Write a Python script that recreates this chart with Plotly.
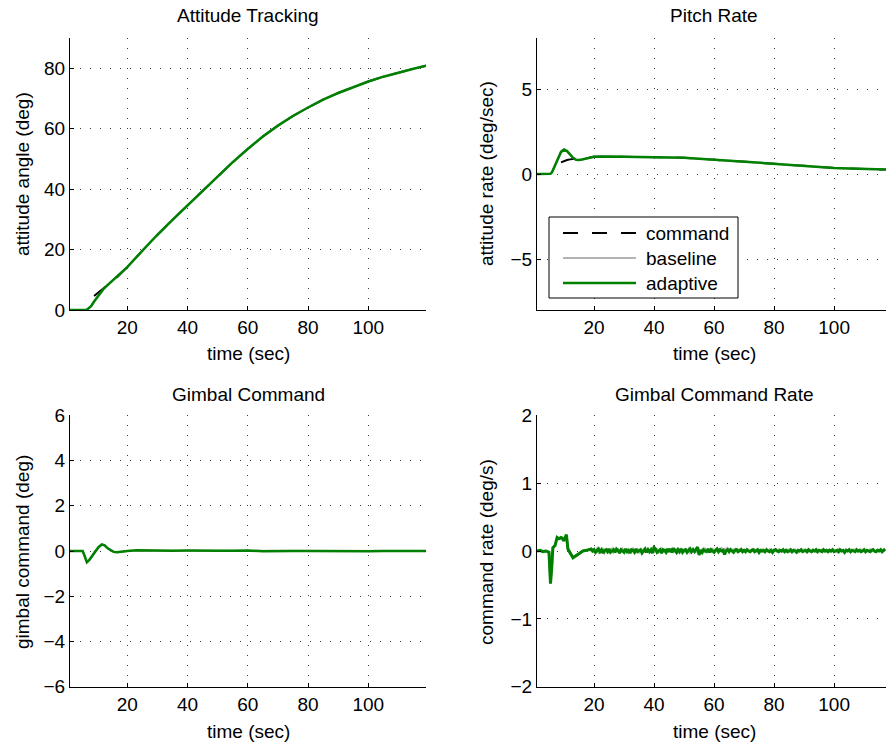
import plotly.graph_objects as go

# ---------------- data ----------------
# Attitude tracking (deg)
t_att = [1, 5, 6, 6.5, 7, 8, 9, 10, 11, 12, 13, 14, 15, 17, 20, 25, 30, 35, 40, 45, 50,
         55, 60, 65, 70, 75, 80, 85, 90, 95, 100, 105, 110, 115, 119.15]
att_adaptive = [0, 0, 0, 0.1, 0.4, 1.3, 2.8, 4.2, 5.6, 6.8, 7.8, 8.7, 9.5, 11.2, 14.2, 19.6,
                24.9, 29.8, 34.6, 39.4, 44.2, 48.9, 53.3, 57.4, 61.0, 64.2, 67.0, 69.6,
                71.8, 73.8, 75.6, 77.2, 78.6, 79.8, 80.8]
att_baseline = [0, 0, 0, 0.1, 0.4, 1.3, 2.8, 4.2, 5.6, 6.8, 7.8, 8.7, 9.5, 11.2, 14.2, 19.6,
                24.9, 29.8, 34.6, 39.4, 44.2, 48.9, 53.3, 57.4, 61.0, 64.2, 67.0, 69.6,
                71.8, 73.8, 75.6, 77.2, 78.6, 79.8, 80.8]
t_att_cmd = [9, 10, 11, 12, 13, 14, 15, 17, 20, 25, 30, 35, 40, 45, 50, 55, 60, 65, 70,
             75, 80, 85, 90, 95, 100, 105, 110, 115, 119.15]
att_command = [4.6, 5.4, 6.2, 7.1, 7.9, 8.8, 9.6, 11.2, 14.2, 19.6, 24.9, 29.8, 34.6,
               39.4, 44.2, 48.9, 53.3, 57.4, 61.0, 64.2, 67.0, 69.6, 71.8, 73.8, 75.6,
               77.2, 78.6, 79.8, 80.8]

# Pitch rate (deg/sec)
t_rate = [1, 5, 5.5, 6, 7, 8, 9, 10, 11, 12, 13, 14, 15, 16, 17, 18, 20, 25, 30, 35, 40,
          45, 50, 55, 60, 65, 70, 75, 80, 85, 90, 95, 100, 105, 110, 115, 117.3]
rate_adaptive = [0, 0, 0.02, 0.1, 0.5, 0.95, 1.3, 1.44, 1.35, 1.15, 0.95, 0.84, 0.82, 0.85,
                 0.9, 0.95, 1.02, 1.03, 1.02, 1.03, 1.02, 1.0, 0.96, 0.9, 0.84, 0.77, 0.7,
                 0.63, 0.56, 0.5, 0.45, 0.4, 0.36, 0.32, 0.29, 0.27, 0.26]
rate_baseline = [0, 0, 0.02, 0.1, 0.5, 0.95, 1.3, 1.44, 1.35, 1.15, 0.95, 0.84, 0.82, 0.85,
                 0.9, 0.95, 1.02, 1.03, 1.02, 1.03, 1.02, 1.0, 0.96, 0.9, 0.84, 0.77, 0.7,
                 0.63, 0.56, 0.5, 0.45, 0.4, 0.36, 0.32, 0.29, 0.27, 0.26]
t_rate_cmd = [9, 10, 11, 12, 13, 15, 18, 20, 25, 30, 35, 40, 45, 50, 55, 60, 65, 70, 75,
              80, 85, 90, 95, 100, 105, 110, 115, 117.3]
rate_command = [0.68, 0.76, 0.82, 0.86, 0.89, 0.93, 0.98, 1.01, 1.03, 1.02, 1.03, 1.02,
                1.0, 0.96, 0.9, 0.84, 0.77, 0.7, 0.63, 0.56, 0.5, 0.45, 0.4, 0.36, 0.32,
                0.29, 0.27, 0.26]

# Gimbal command (deg)
t_gim = [1, 5.2, 5.8, 6.6, 7.5, 8.5, 9.3, 10.5, 11.6, 12.5, 13.5, 14.5, 15.5, 16.6, 18,
         20, 23, 26, 30, 35, 40, 45, 50, 55, 60, 65, 70, 75, 80, 85, 90, 95, 100, 105,
         110, 115, 119.15]
gim_adaptive = [0, 0, -0.2, -0.5, -0.38, -0.2, 0.0, 0.18, 0.29, 0.25, 0.12, 0.02, -0.04,
                -0.06, -0.03, 0.0, 0.03, 0.02, 0.02, 0.01, 0.02, 0.0, 0.01, 0.01, 0.02,
                -0.01, 0.01, 0.0, 0.0, -0.01, 0.0, 0.0, -0.01, 0.0, -0.01, 0.0, 0.0]
gim_baseline = [0, 0, -0.2, -0.49, -0.37, -0.2, 0.0, 0.17, 0.28, 0.24, 0.12, 0.02, -0.04,
                -0.05, -0.03, 0.0, 0.02, 0.02, 0.01, 0.01, 0.01, 0.0, 0.01, 0.0, 0.01,
                0.0, 0.01, 0.0, 0.0, 0.0, 0.0, 0.0, -0.01, 0.0, 0.0, 0.0, 0.0]

# Gimbal command rate (deg/s): transient part
t_cr_early = [1, 2, 3, 4, 5.0, 5.2, 5.5, 5.9, 6.3, 7.0, 7.7, 8.3, 9.0, 9.4, 9.9, 10.4,
              10.8, 11.3, 12.0, 13.0, 14.0, 15.0, 16.3, 17.5, 18.5]
cr_adaptive_early = [0.0, 0.01, -0.01, 0.0, -0.02, -0.3, -0.48, -0.25, 0.05, 0.08, 0.2,
                     0.18, 0.2, 0.19, 0.15, 0.2, 0.24, 0.03, -0.03, -0.1, -0.07, -0.04,
                     0.0, 0.01, 0.03]
cr_baseline_early = [0.0, 0.0, 0.0, 0.0, -0.02, -0.3, -0.47, -0.25, 0.05, 0.08, 0.19,
                     0.18, 0.19, 0.19, 0.15, 0.2, 0.23, 0.03, -0.03, -0.09, -0.07, -0.04,
                     0.0, 0.01, 0.02]
# Gimbal command rate (deg/s): steady jitter part
t_cr_late = [19, 19.5, 20, 20.5, 21, 21.5, 22, 22.5, 23, 23.5, 24, 24.5, 25, 25.5, 26,
             26.5, 27, 27.5, 28, 28.5, 29, 29.5, 30, 30.5, 31, 31.5, 32, 32.5, 33, 33.5,
             34, 34.5, 35, 35.5, 36, 36.5, 37, 37.5, 38, 38.5, 39, 39.5, 40, 40.5, 41,
             41.5, 42, 42.5, 43, 43.5, 44, 44.5, 45, 45.5, 46, 46.5, 47, 47.5, 48, 48.5,
             49, 49.5, 50, 50.5, 51, 51.5, 52, 52.5, 53, 53.5, 54, 54.5, 55, 55.5, 56,
             56.5, 57, 57.5, 58, 58.5, 59, 59.5, 60, 60.5, 61, 61.5, 62, 62.5, 63, 63.5,
             64, 64.5, 65, 65.5, 66, 66.5, 67, 67.5, 68, 68.5, 69, 69.5, 70, 70.5, 71,
             71.5, 72, 72.5, 73, 73.5, 74, 74.5, 75, 75.5, 76, 76.5, 77, 77.5, 78, 78.5,
             79, 79.5, 80, 80.5, 81, 81.5, 82, 82.5, 83, 83.5, 84, 84.5, 85, 85.5, 86,
             86.5, 87, 87.5, 88, 88.5, 89, 89.5, 90, 90.5, 91, 91.5, 92, 92.5, 93, 93.5,
             94, 94.5, 95, 95.5, 96, 96.5, 97, 97.5, 98, 98.5, 99, 99.5, 100, 100.5, 101,
             101.5, 102, 102.5, 103, 103.5, 104, 104.5, 105, 105.5, 106, 106.5, 107,
             107.5, 108, 108.5, 109, 109.5, 110, 110.5, 111, 111.5, 112, 112.5, 113,
             113.5, 114, 114.5, 115, 115.5, 116, 116.5, 117]
cr_adaptive_late = [
    0.03, 0.0, 0.02, -0.02, 0.01, 0.03, -0.01, 0.02, -0.03, 0.01,
    0.02, -0.01, 0.03, -0.02, 0.0, 0.02, -0.02, 0.03, 0.01, -0.03,
    0.02, 0.0, -0.02, 0.03, -0.01, 0.01, -0.03, 0.02, 0.01, -0.02,
    0.03, -0.01, 0.0, 0.02, -0.03, 0.01, 0.03, -0.02, 0.02, -0.01,
    0.02, -0.03, 0.05, 0.03, -0.02, 0.0, 0.02, -0.03, 0.02, 0.01,
    -0.02, 0.03,
    -0.01, 0.03, -0.02, 0.04, 0.0, -0.02, 0.02, -0.01, 0.03, -0.02,
    0.01, 0.02, -0.02, 0.0, 0.03, -0.01, 0.02, -0.01, 0.02, 0.06,
    -0.06, 0.01, -0.02, 0.02, 0.0, -0.01, 0.03, -0.02, 0.02, 0.0,
    -0.02, 0.01, 0.03, -0.01, 0.02, 0.0, 0.01, -0.05, 0.0, 0.02,
    -0.01, 0.02, 0.0, -0.02, 0.01, 0.02, -0.01, 0.0, 0.02, -0.01,
    0.01, -0.01, 0.02, 0.0, -0.01, 0.01, 0.02, -0.01, 0.0, 0.02,
    -0.02, 0.01, 0.0, 0.01, -0.01, 0.02, 0.0, -0.01, 0.01, -0.02,
    0.01, 0.02, 0.0, -0.01, 0.01, 0.0, 0.02, -0.01, 0.01, -0.01,
    0.0, 0.02, -0.01, 0.01, 0.0, -0.02, 0.01, 0.0, 0.02, -0.01,
    0.0, 0.01, -0.01, 0.02, 0.0, -0.01, 0.01, 0.0, 0.02, -0.01,
    0.01, 0.0, -0.01, 0.02, 0.0, 0.01, -0.01, 0.01, 0.0, 0.02,
    -0.01, 0.0, 0.01, -0.01, 0.02, 0.0, 0.01, -0.02, 0.01, 0.0,
    0.02, -0.01, 0.01, 0.0, -0.01, 0.02, 0.0, 0.01, -0.01, 0.0,
    0.02, -0.01, 0.01, 0.0, -0.01, 0.01, 0.02, 0.0, -0.01, 0.01,
    0.0, 0.02, -0.01, 0.01, 0.03]
cr_baseline_late = [
    0.01, 0.02, -0.01, 0.0, 0.03, -0.02, 0.01, 0.0, 0.02, -0.03,
    0.0, 0.02, -0.01, 0.01, 0.03, -0.02, 0.0, 0.01, 0.02, -0.02,
    0.0, 0.03, -0.01, 0.0, 0.02, -0.02, 0.01, 0.0, 0.03, -0.01,
    0.0, 0.02, -0.03, 0.01, 0.0, 0.02, -0.01, 0.01, 0.02, -0.02,
    0.0, 0.03, -0.01, 0.0, 0.02, -0.02, 0.01, 0.03, -0.01, 0.0,
    0.02, -0.01,
    0.02, 0.0, 0.03, -0.01, 0.01, 0.02, -0.02, 0.0, 0.03, 0.01,
    -0.01, 0.02, 0.0, 0.03, -0.02, 0.01, 0.02, 0.0, -0.01, 0.03,
    0.01, 0.0, 0.02, -0.01, 0.03, 0.0, 0.02, 0.01, -0.01, 0.03,
    0.02, 0.0, 0.03, 0.01, 0.02, 0.04, 0.02, 0.03, 0.01, 0.04,
    0.02, 0.03, 0.01, 0.02, 0.03, 0.0, 0.02, 0.01, 0.03, 0.0,
    0.01, 0.0, 0.02, 0.01, -0.01, 0.0, 0.01, 0.02, 0.0, -0.01,
    0.01, 0.0, 0.02, -0.01, 0.0, 0.01, 0.0, 0.02, 0.0, -0.01,
    0.01, 0.0, 0.01, 0.02, 0.0, -0.01, 0.0, 0.01, 0.0, 0.02,
    0.01, -0.01, 0.0, 0.01, 0.02, 0.0, -0.01, 0.01, 0.0, 0.01,
    0.02, 0.0, -0.01, 0.0, 0.01, 0.0, 0.02, 0.0, -0.01, 0.01,
    0.0, 0.01, 0.02, 0.0, -0.01, 0.01, 0.0, 0.02, -0.01, 0.01,
    0.0, 0.01, -0.01, 0.02, 0.0, 0.01, 0.0, -0.01, 0.02, 0.01,
    0.0, -0.01, 0.01, 0.02, 0.0, 0.01, -0.01, 0.0, 0.02, 0.01,
    0.0, -0.01, 0.01, 0.0, 0.02, 0.0, 0.01, -0.01, 0.0, 0.02,
    0.01, 0.0, -0.01, 0.01, 0.0]

t_cr = t_cr_early + t_cr_late
cr_adaptive = cr_adaptive_early + cr_adaptive_late
cr_baseline = cr_baseline_early + cr_baseline_late

x_ticks = [20, 40, 60, 80, 100]
att_ticks = [0, 20, 40, 60, 80]
rate_ticks = [-5, 0, 5]
gim_ticks = [-6, -4, -2, 0, 2, 4, 6]
cr_ticks = [-2, -1, 0, 1, 2]

panel_titles = ["Attitude Tracking", "Pitch Rate", "Gimbal Command", "Gimbal Command Rate"]
y_titles = ["attitude angle (deg)", "attitude rate (deg/sec)",
            "gimbal command (deg)", "command rate (deg/s)"]
x_title = "time (sec)"
legend_names = ["command", "baseline", "adaptive"]

# ---------------- styling ----------------
W, H = 886, 744
FONT = "Liberation Sans, Arial, Helvetica, sans-serif"
FS = 19
GREEN = "rgb(0,128,0)"
GRAY = "rgb(179,179,179)"
BLACK = "black"
DASH = "15px,14px"

fig = go.Figure()

def add(x, y, xa, ya, color, width, dash="solid"):
    fig.add_trace(go.Scatter(x=x, y=y, xaxis=xa, yaxis=ya, mode="lines",
                             line=dict(color=color, width=width, dash=dash),
                             showlegend=False, hoverinfo="skip"))

# panel 1
add(t_att_cmd, att_command, "x", "y", BLACK, 2, DASH)
add(t_att, att_baseline, "x", "y", GRAY, 2)
add(t_att, att_adaptive, "x", "y", GREEN, 2.5)
# panel 2
add(t_rate_cmd, rate_command, "x2", "y2", BLACK, 2, DASH)
add(t_rate, rate_baseline, "x2", "y2", GRAY, 2)
add(t_rate, rate_adaptive, "x2", "y2", GREEN, 2.5)
# panel 3
add(t_gim, gim_baseline, "x3", "y3", GRAY, 2)
add(t_gim, gim_adaptive, "x3", "y3", GREEN, 2.5)
# panel 4
add(t_cr, cr_baseline, "x4", "y4", GRAY, 2.5)
add(t_cr, cr_adaptive, "x4", "y4", GREEN, 3)

def px(v):
    return v / W

def py(v):
    return 1 - v / H

LEFT = [px(70), px(426)]
RIGHT = [px(537), 1.0]
TOP = [py(310), py(38)]
BOT = [py(686.7), py(415.3)]

common = dict(showline=True, linecolor=BLACK, linewidth=1, ticks="inside", ticklen=4,
              tickcolor=BLACK, showgrid=True, gridcolor="#3a3a3a", gridwidth=1,
              griddash="1px,9px", zeroline=False, automargin=False,
              tickfont=dict(family=FONT, size=FS, color=BLACK), mirror=False)

def xa(domain, anchor, rng):
    d = dict(common)
    d.update(domain=domain, anchor=anchor, range=rng, tickvals=x_ticks)
    return d

def ya(domain, anchor, rng, ticks):
    d = dict(common)
    d.update(domain=domain, anchor=anchor, range=rng, tickvals=ticks)
    return d

fig.update_layout(
    width=W, height=H, autosize=False,
    margin=dict(l=0, r=0, t=0, b=0, pad=0, autoexpand=False),
    paper_bgcolor="white", plot_bgcolor="white",
    font=dict(family=FONT, size=FS, color=BLACK),
    xaxis=xa(LEFT, "y", [1, 119.15]),
    yaxis=ya(TOP, "x", [0, 90], att_ticks),
    xaxis2=xa(RIGHT, "y2", [1, 117.3]),
    yaxis2=ya(TOP, "x2", [-8, 8], rate_ticks),
    xaxis3=xa(LEFT, "y3", [1, 119.15]),
    yaxis3=ya(BOT, "x3", [-6, 6], gim_ticks),
    xaxis4=xa(RIGHT, "y4", [1, 117.3]),
    yaxis4=ya(BOT, "x4", [-2, 2], cr_ticks),
    showlegend=False,
)

ann = []
def text(s, x, y, angle=0, xanchor="center"):
    ann.append(dict(text=s, x=px(x), y=py(y), xref="paper", yref="paper",
                    xanchor=xanchor, yanchor="middle", showarrow=False, textangle=angle,
                    font=dict(family=FONT, size=FS, color=BLACK)))

# panel titles
text(panel_titles[0], 248, 16)
text(panel_titles[1], 714, 16)
text(panel_titles[2], 248, 394)
text(panel_titles[3], 714, 394)
# axis titles
text(y_titles[0], 22, 174, -90)
text(y_titles[1], 486, 174, -90)
text(y_titles[2], 22, 552, -90)
text(y_titles[3], 486, 552, -90)
text(x_title, 248, 353)
text(x_title, 714, 353)
text(x_title, 248, 731)
text(x_title, 714, 731)

# legend (Pitch Rate panel)
shapes = [dict(type="rect", xref="paper", yref="paper", x0=px(549), x1=px(738),
               y0=py(298), y1=py(217), line=dict(color=BLACK, width=1),
               fillcolor="white", layer="above")]
leg_styles = [(BLACK, 2, DASH), (GRAY, 2, "solid"), (GREEN, 2.5, "solid")]
for i, (name, (c, w, d)) in enumerate(zip(legend_names, leg_styles)):
    yy = 233 + 25 * i
    shapes.append(dict(type="line", xref="paper", yref="paper", x0=px(563), x1=px(636),
                       y0=py(yy), y1=py(yy), line=dict(color=c, width=w, dash=d),
                       layer="above"))
    text(name, 644, yy, 0, "left")

fig.update_layout(annotations=ann, shapes=shapes)
fig.write_html("out.html")
